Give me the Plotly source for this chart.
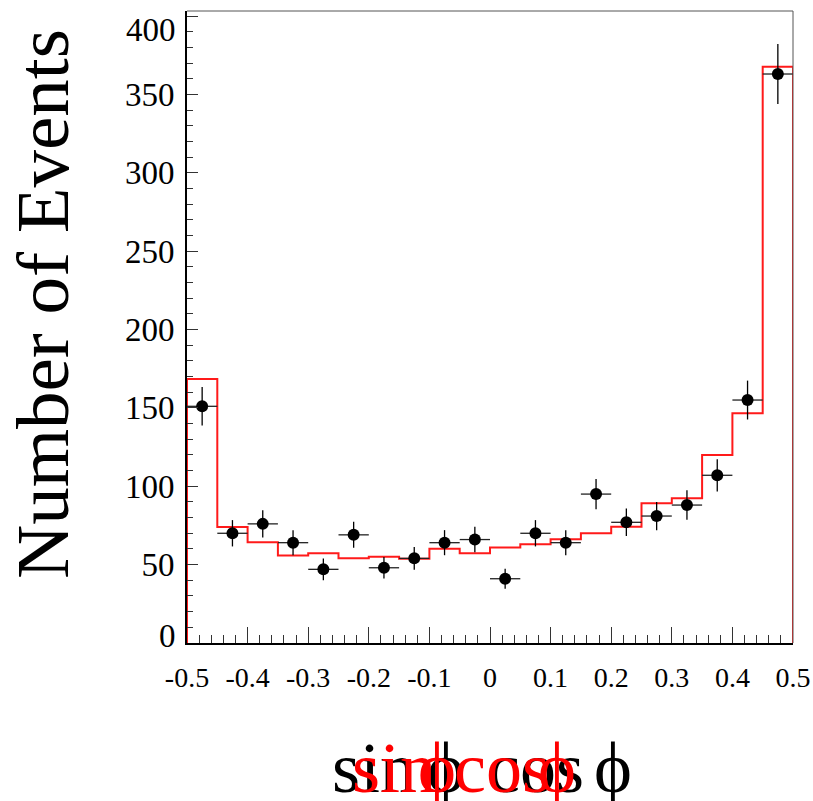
import plotly.graph_objects as go

# Histogram binning: 20 bins over [-0.5, 0.5]
bin_edges = [-0.5 + 0.05 * i for i in range(21)]
bin_centers = [round(-0.475 + 0.05 * i, 3) for i in range(20)]

# Observed event counts per bin
data_counts = [151, 70, 76, 64, 47, 69, 48, 54, 64, 66,
               41, 70, 64, 95, 77, 81, 88, 107, 155, 363]
# Statistical uncertainties on the counts
data_errors = [12.3, 8.4, 8.7, 8.0, 6.9, 8.3, 6.9, 7.3, 8.0, 8.1,
               6.4, 8.4, 8.0, 9.7, 8.8, 9.0, 9.4, 10.3, 12.4, 19.1]
# Expected (simulated) distribution
model_counts = [168.4, 74.0, 64.2, 55.9, 57.2, 54.0, 55.1, 53.8, 60.2, 57.2,
                61.0, 63.0, 66.2, 70.0, 74.2, 89.1, 92.3, 119.9, 146.5, 367.7]

y_tick_vals = [0, 50, 100, 150, 200, 250, 300, 350, 400]
# End labels are drawn separately, nudged inside the frame
y_tick_text = ["", "50", "100", "150", "200", "250", "300", "350", ""]
y_end_labels = [("0", 636), ("400", 30)]
x_tick_vals = [-0.5, -0.4, -0.3, -0.2, -0.1, 0, 0.1, 0.2, 0.3, 0.4, 0.5]
x_tick_text = ["-0.5", "-0.4", "-0.3", "-0.2", "-0.1", "0", "0.1", "0.2", "0.3", "0.4", "0.5"]

# Axis title pieces (the x title is drawn twice, black and red, slightly offset)
y_title = "Number of Events"
x_title_black = [("sin", "left", 330), ("\u03d5", "center", 446), ("cos", "left", 486), ("\u03d5", "center", 613)]
x_title_red = [("sin", "left", 350), ("\u03d5", "center", 437), ("cos", "left", 452), ("\u03d5", "center", 557)]

W, H = 813, 801
L, R, T, B = 187, 793, 11, 643
SERIF = "Liberation Serif, Times New Roman, serif"


def px_x(p):
    return (p - L) / (R - L)


def px_y(p):
    return (B - p) / (B - T)


# Outline of the model histogram, closed to zero at both ends
step_x = [bin_edges[0]]
step_y = [0]
for i, v in enumerate(model_counts):
    step_x += [bin_edges[i], bin_edges[i + 1]]
    step_y += [v, v]
step_x.append(bin_edges[-1])
step_y.append(0)

fig = go.Figure()

fig.add_trace(go.Scatter(
    x=step_x, y=step_y, mode="lines",
    line=dict(color="#ff1a1a", width=2),
    hoverinfo="skip", showlegend=False,
))

fig.add_trace(go.Scatter(
    x=bin_centers, y=data_counts, mode="markers",
    marker=dict(color="black", size=12, symbol="circle"),
    error_y=dict(type="data", array=data_errors, color="black", thickness=1.3, width=0),
    error_x=dict(type="constant", value=0.025, color="#222222", thickness=1.3, width=0),
    showlegend=False,
))

fig.update_xaxes(
    range=[-0.5, 0.5], automargin=False,
    tickmode="array", tickvals=x_tick_vals, ticktext=x_tick_text,
    ticks="inside", ticklen=16, tickwidth=1, tickcolor="#333333",
    minor=dict(ticks="inside", ticklen=8, dtick=0.02, tick0=-0.5, tickcolor="#333333", tickwidth=1),
    showline=True, linecolor="black", linewidth=2,
    showgrid=False, zeroline=False,
    tickfont=dict(family=SERIF, size=28, color="black"),
    ticklabelstandoff=8, ticklabeloverflow="allow",
)
fig.update_yaxes(
    range=[0, 403.2], automargin=False,
    tickmode="array", tickvals=y_tick_vals, ticktext=y_tick_text,
    ticks="inside", ticklen=11, tickwidth=1, tickcolor="#333333",
    minor=dict(ticks="inside", ticklen=6, dtick=10, tick0=0, tickcolor="#333333", tickwidth=1),
    showline=True, linecolor="black", linewidth=2,
    showgrid=False, zeroline=False,
    tickfont=dict(family=SERIF, size=33, color="black"),
    ticklabelstandoff=4, ticklabeloverflow="allow",
)

# Thin frame on top and right
fig.add_shape(type="line", xref="paper", yref="paper", x0=0, x1=1, y0=1, y1=1,
              line=dict(color="#555555", width=1))
fig.add_shape(type="line", xref="paper", yref="paper", x0=1, x1=1, y0=0, y1=1,
              line=dict(color="#555555", width=1))

annotations = [
    dict(text=y_title, textangle=-90, xref="paper", yref="paper",
         x=px_x(42), y=px_y(304), xanchor="center", yanchor="middle", showarrow=False,
         font=dict(family=SERIF, size=75, color="black")),
]
for txt, yp in y_end_labels:
    annotations.append(dict(
        text=txt, xref="paper", yref="paper",
        x=px_x(178), y=px_y(yp), xanchor="right", yanchor="middle", showarrow=False,
        font=dict(family=SERIF, size=33, color="black"),
    ))
for pieces, color in ((x_title_black, "black"), (x_title_red, "#ff0000")):
    for txt, anchor, xp in pieces:
        annotations.append(dict(
            text=txt, xref="paper", yref="paper",
            x=px_x(xp), y=px_y(768), xanchor=anchor, yanchor="middle", showarrow=False,
            font=dict(family=SERIF, size=72, color=color),
        ))

fig.update_layout(
    width=W, height=H,
    margin=dict(l=L, r=W - R, t=T, b=H - B),
    paper_bgcolor="white", plot_bgcolor="white",
    annotations=annotations,
)

fig.write_html("out.html")
